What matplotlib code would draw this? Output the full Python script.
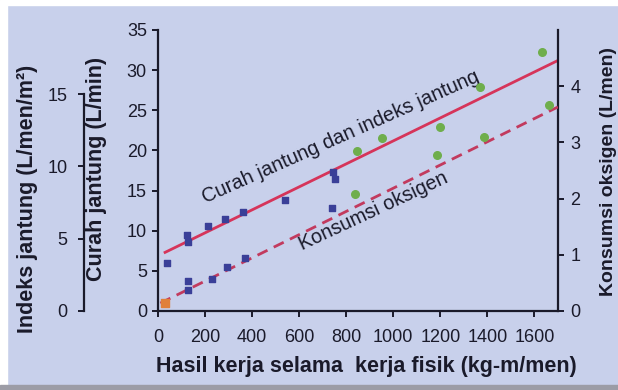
import matplotlib
matplotlib.use("Agg")
import matplotlib.pyplot as plt
from matplotlib.patches import Rectangle

plt.rcParams['font.family'] = ['Liberation Sans', 'DejaVu Sans']

# Cardiac output (L/min) versus work rate (kg-m/min)
work_blue = [38, 123, 127, 212, 284, 361, 539, 745, 751]
curah_blue = [6.0, 9.5, 8.6, 10.6, 11.5, 12.3, 13.8, 17.3, 16.4]
work_green = [845, 951, 1197, 1367, 1634]
curah_green = [19.9, 21.5, 22.9, 27.9, 32.2]
curah_fit_x = [30, 1700]
curah_fit_y = [7.3, 31.2]

# Oxygen consumption (L/min) versus work rate
o2_work_orange = [30]
o2_orange = [0.15]
o2_work_blue = [127, 127, 229, 293, 369, 738]
o2_blue = [0.54, 0.38, 0.57, 0.79, 0.94, 1.84]
o2_work_green = [836, 1188, 1388, 1664]
o2_green = [2.08, 2.77, 3.10, 3.66]
o2_fit_x = [10, 1700]
o2_fit_y = [0.14, 3.63]

x_ticks = [0, 200, 400, 600, 800, 1000, 1200, 1400, 1600]
curah_ticks = [0, 5, 10, 15, 20, 25, 30, 35]
index_ticks = [0, 5, 10, 15]
o2_ticks = [0, 1, 2, 3, 4]

bg = '#c8d0eb'
line_red = '#d6345a'
dash_red = '#c23a5e'
blue = '#3a3f98'
green = '#6fae4c'
orange = '#e0803a'
ink = '#1a1a2a'
label_size = 15.5

fig = plt.figure(figsize=(6.18, 3.90), dpi=100, facecolor=bg)

# paper edges around the printed figure
fig.patches.append(Rectangle((0, 0), 7 / 618, 1, transform=fig.transFigure,
                             color='white', zorder=0))
fig.patches.append(Rectangle((0, 1 - 5 / 390), 1, 5 / 390, transform=fig.transFigure,
                             color='white', zorder=0))
fig.patches.append(Rectangle((0, 0), 1, 5 / 390, transform=fig.transFigure,
                             color='#9c9ca6', zorder=0))

ax = fig.add_axes([0.2557, 0.2026, 0.647, 0.7205])
ax.set_facecolor('none')

ax.set_xlim(0, 1700)
ax.set_ylim(0, 35)
ax.set_xticks(x_ticks)
ax.set_yticks(curah_ticks)
for s in ['top', 'right']:
    ax.spines[s].set_visible(False)
for s in ['left', 'bottom']:
    ax.spines[s].set_linewidth(1.6)
    ax.spines[s].set_color(ink)
ax.tick_params(axis='both', labelsize=13, width=1.4, length=4, colors=ink)
ax.tick_params(axis='x', pad=9)
ax.tick_params(axis='y', pad=4)

# Oxygen consumption axis on the right
ax_o2 = ax.twinx()
ax_o2.set_ylim(0, 5)
ax_o2.set_yticks(o2_ticks)
for s in ['top', 'left', 'bottom']:
    ax_o2.spines[s].set_visible(False)
ax_o2.spines['right'].set_linewidth(1.6)
ax_o2.spines['right'].set_color(ink)
ax_o2.tick_params(axis='y', labelsize=13, width=1.4, length=4, colors=ink, pad=5)
ax_o2.set_ylabel('Konsumsi oksigen (L/men)', fontsize=14, fontweight='bold', color=ink)
ax_o2.yaxis.set_label_coords(1.105, 0.495)

# Cardiac index axis, offset to the left
ax_idx = ax.twinx()
ax_idx.set_ylim(0, 35 / 1.8)
ax_idx.set_yticks(index_ticks)
ax_idx.yaxis.set_ticks_position('left')
ax_idx.yaxis.set_label_position('left')
for s in ['top', 'right', 'bottom']:
    ax_idx.spines[s].set_visible(False)
ax_idx.spines['left'].set_position(('axes', -0.185))
ax_idx.spines['left'].set_bounds(0, 15)
ax_idx.spines['left'].set_linewidth(1.6)
ax_idx.spines['left'].set_color(ink)
ax_idx.tick_params(axis='y', labelsize=13, width=1.4, length=4, colors=ink, pad=8)
ax_idx.set_ylabel('Indeks jantung (L/men/m²)', fontsize=label_size,
                  fontweight='bold', color=ink)
ax_idx.yaxis.set_label_coords(-0.3, 0.40)

ax.set_ylabel('Curah jantung (L/min)', fontsize=label_size, fontweight='bold', color=ink)
ax.yaxis.set_label_coords(-0.128, 0.505)
ax.set_xlabel('Hasil kerja selama  kerja fisik (kg-m/men)', fontsize=label_size,
              fontweight='bold', color=ink)
ax.xaxis.set_label_coords(0.52, -0.16)

# Cardiac output: fitted line and measurements
ax.plot(curah_fit_x, curah_fit_y, color=line_red, lw=2.0, zorder=3)
ax.scatter(work_blue, curah_blue, marker='s', s=24, color=blue, zorder=4)
ax.scatter(work_green, curah_green, marker='o', s=30, color=green, zorder=4)

# Oxygen consumption: fitted line and measurements
ax_o2.plot(o2_fit_x, o2_fit_y, color=dash_red, lw=2.0, ls=(0, (4, 2.5)), zorder=3)
ax_o2.scatter(o2_work_orange, o2_orange, marker='s', s=26, color=orange, zorder=4)
ax_o2.scatter(o2_work_blue, o2_blue, marker='s', s=24, color=blue, zorder=4)
ax_o2.scatter(o2_work_green, o2_green, marker='o', s=30, color=green, zorder=4)
ax_o2.set_xlim(0, 1700)

ax.text(775, 21.7, 'Curah jantung dan indeks jantung', fontsize=14.5, color=ink,
        rotation=24, ha='center', va='center', rotation_mode='anchor')
ax.text(915, 12.45, 'Konsumsi oksigen', fontsize=14.3, color=ink,
        rotation=25, ha='center', va='center', rotation_mode='anchor')

fig.savefig('out.png', dpi=100, facecolor=bg)
